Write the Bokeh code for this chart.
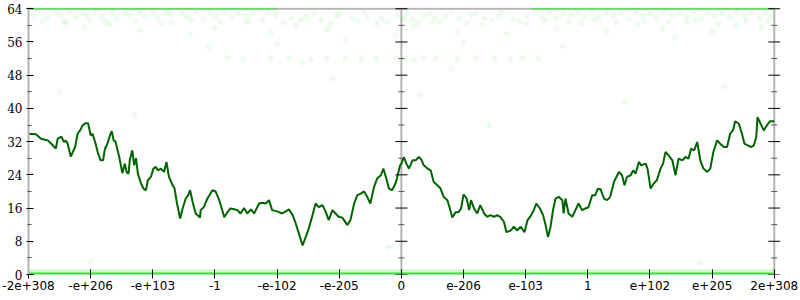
from bokeh.plotting import figure
from bokeh.models import Range1d, LinearAxis, FixedTicker, Span
from bokeh.embed import file_html
from bokeh.resources import INLINE

# ---------------- data ----------------
tick_labels = ["-2e+308", "-e+206", "-e+103", "-1", "-e-102", "-e-205", "0",
               "e-206", "e-103", "1", "e+102", "e+205", "2e+308"]
y_major = [0, 8, 16, 24, 32, 40, 48, 56, 64]
y_minor = [4, 12, 20, 28, 36, 44, 52, 60]

line_x = [0.0, 0.12, 0.2, 0.31, 0.36, 0.44, 0.47, 0.53, 0.57, 0.6, 0.63, 0.68, 0.75, 0.79, 0.83, 0.87,
          0.91, 0.96, 1.0, 1.03, 1.08, 1.12, 1.16, 1.2, 1.23, 1.27, 1.31, 1.34, 1.37, 1.4, 1.46, 1.51,
          1.55, 1.58, 1.61, 1.63, 1.67, 1.7, 1.73, 1.76, 1.81, 1.85, 1.89, 1.92, 1.97, 2.01, 2.05, 2.08,
          2.13, 2.18, 2.22, 2.26, 2.32, 2.35, 2.39, 2.44, 2.48, 2.53, 2.57, 2.6, 2.64, 2.69, 2.76, 2.77,
          2.82, 2.88, 2.96, 3.01, 3.07, 3.15, 3.2, 3.25, 3.31, 3.36, 3.41, 3.47, 3.52, 3.58, 3.63, 3.71,
          3.76, 3.82, 3.87, 3.92, 4.0, 4.08, 4.14, 4.19, 4.25, 4.3, 4.35, 4.41, 4.46, 4.51, 4.57, 4.62,
          4.67, 4.73, 4.78, 4.83, 4.89, 4.94, 4.99, 5.05, 5.13, 5.18, 5.24, 5.29, 5.34, 5.4, 5.45, 5.5,
          5.56, 5.61, 5.67, 5.71, 5.75, 5.8, 5.85, 5.91, 5.98, 6.0, 6.04, 6.08, 6.12, 6.18, 6.23, 6.28,
          6.32, 6.36, 6.42, 6.47, 6.52, 6.58, 6.63, 6.68, 6.74, 6.78, 6.82, 6.87, 6.92, 6.96, 7.0, 7.05,
          7.09, 7.12, 7.17, 7.22, 7.27, 7.33, 7.38, 7.43, 7.49, 7.54, 7.59, 7.65, 7.69, 7.76, 7.81, 7.86,
          7.92, 7.98, 8.03, 8.09, 8.13, 8.17, 8.23, 8.28, 8.32, 8.36, 8.4, 8.44, 8.48, 8.53, 8.59, 8.61,
          8.64, 8.69, 8.75, 8.8, 8.85, 8.91, 8.96, 9.01, 9.07, 9.12, 9.16, 9.19, 9.2, 9.26, 9.31, 9.36,
          9.42, 9.5, 9.55, 9.59, 9.63, 9.69, 9.73, 9.77, 9.82, 9.86, 9.93, 9.96, 10.01, 10.06, 10.11, 10.17,
          10.21, 10.25, 10.3, 10.36, 10.41, 10.46, 10.52, 10.57, 10.62, 10.66, 10.71, 10.76, 10.81, 10.86, 10.92, 10.97,
          11.02, 11.08, 11.13, 11.19, 11.24, 11.29, 11.34, 11.37, 11.43, 11.48, 11.52, 11.57, 11.63, 11.67, 11.71, 11.73,
          11.78, 11.83, 11.88, 11.93, 12.0]
line_y = [33.9, 33.8, 32.7, 32.3, 31.6, 30.3, 32.7, 33.2, 31.9, 32.3, 31.5, 28.4, 30.7, 33.9, 34.7, 35.9,
          36.4, 36.4, 33.5, 33.9, 31.5, 29.1, 27.5, 27.5, 30.3, 31.5, 33.5, 34.5, 32.3, 32.0, 28.3, 24.4,
          26.7, 24.6, 24.3, 27.6, 29.9, 26.3, 28.0, 24.3, 21.9, 20.7, 20.3, 22.7, 23.5, 25.5, 25.9, 25.1,
          25.5, 24.7, 27.1, 23.5, 21.5, 20.7, 17.1, 13.5, 15.9, 18.3, 19.1, 20.3, 17.5, 14.7, 13.7, 15.5,
          16.2, 18.3, 20.3, 20.0, 17.9, 13.8, 15.0, 15.9, 15.7, 15.5, 14.7, 16.0, 14.7, 15.7, 14.7, 17.1,
          17.3, 17.1, 17.9, 15.5, 15.2, 14.7, 15.2, 15.7, 14.3, 12.3, 9.9, 7.0, 9.0, 11.1, 14.3, 17.1,
          16.2, 16.7, 15.2, 13.1, 15.5, 14.7, 13.9, 13.7, 11.9, 13.1, 17.1, 19.1, 19.4, 20.0, 18.7, 17.1,
          21.1, 23.1, 23.9, 25.5, 23.5, 20.7, 20.3, 22.1, 26.3, 26.7, 28.3, 26.7, 25.5, 27.5, 27.5, 28.3,
          27.7, 26.3, 25.5, 25.1, 22.3, 21.5, 20.7, 18.7, 17.9, 15.9, 13.7, 15.0, 15.0, 15.9, 19.3, 18.3,
          15.5, 17.9, 15.9, 14.7, 16.7, 14.7, 13.9, 14.3, 13.9, 14.3, 13.9, 12.7, 10.2, 10.6, 11.5, 10.6,
          11.5, 10.2, 13.1, 14.3, 15.5, 17.1, 15.9, 14.3, 11.9, 9.0, 11.5, 15.5, 18.3, 18.7, 17.9, 14.7,
          18.3, 14.7, 13.9, 15.5, 17.1, 15.5, 15.9, 16.2, 19.1, 19.1, 20.7, 20.5, 20.7, 18.3, 17.9, 18.7,
          22.3, 24.7, 23.9, 21.5, 23.5, 23.9, 25.1, 24.3, 27.1, 26.3, 26.7, 25.5, 20.7, 21.9, 22.7, 25.5,
          26.7, 29.5, 28.7, 27.5, 23.9, 27.9, 27.5, 28.3, 27.9, 30.3, 29.9, 31.9, 27.5, 25.5, 24.7, 25.5,
          29.5, 32.3, 31.5, 30.7, 30.7, 33.9, 34.9, 36.9, 36.3, 33.9, 31.5, 31.1, 30.7, 31.1, 33.1, 37.9,
          36.3, 34.7, 35.9, 36.9, 36.9]

# faint scatter cloud
cloud_x = [0.08, 0.31, 0.52, 0.77, 0.95, 1.18, 1.42, 1.63, 1.88, 2.07, 2.29, 2.55, 2.81, 3.02, 3.27, 3.49,
           3.76, 3.98, 4.23, 4.47, 4.71, 4.96, 5.22, 5.45, 5.68, 5.93, 6.05, 6.18, 6.36, 6.54, 6.71, 6.93,
           7.12, 7.34, 7.55, 7.79, 8.02, 8.26, 8.49, 8.73, 8.95, 9.17, 9.41, 9.66, 9.88, 10.11, 10.35, 10.58,
           10.83, 11.04, 11.29, 11.52, 11.77, 11.94,
           0.15, 0.44, 0.66, 0.88, 1.07, 1.35, 1.56, 1.79, 2.01, 2.22, 2.47, 2.69, 2.93, 3.15, 3.38, 3.61,
           3.85, 8.15, 8.38, 8.61, 8.84, 9.06, 9.29, 9.53, 9.77, 10.0, 10.23, 10.47, 10.7, 10.93, 11.16, 11.4,
           11.63, 11.86, 6.1, 6.45, 6.8, 7.2, 7.6, 4.6, 5.0, 5.4,
           0.22, 0.58, 0.99, 1.24, 1.71, 2.14, 2.62, 3.08, 3.55, 4.1, 4.38, 4.85, 5.3, 5.77, 6.02, 6.27,
           6.62, 7.05, 7.45, 7.9, 8.3, 8.7, 9.1, 9.45, 9.9, 10.3, 10.75, 11.1, 11.55, 11.9,
           0.9, 1.3, 1.8, 2.3, 2.6, 3.0, 3.5, 3.9, 4.3, 4.8, 5.1, 5.6, 5.9, 6.2, 6.5, 6.9,
           7.3, 7.7, 8.0, 8.5, 8.9, 9.3, 9.8, 10.2, 10.6, 11.0, 11.4, 11.8, 4.0, 7.0, 8.6, 2.9,
           4.4, 6.8, 0.6, 10.4,
           3.2, 3.45, 3.9, 4.2, 4.55, 4.8, 5.1, 5.35, 5.6, 5.9, 6.05, 6.2, 6.35, 6.55, 6.9, 7.2,
           7.5, 7.75, 7.95, 8.2,
           0.5, 1.7, 4.9, 6.3, 7.4, 9.6, 11.2, 5.8, 1.0, 10.8]
cloud_y = [62.2, 61.8, 62.5, 61.9, 62.3, 62.0, 61.6, 62.4, 62.1, 61.8, 62.6, 62.0, 61.5, 62.3, 61.9, 62.2,
           61.4, 62.5, 61.7, 62.0, 61.3, 62.4, 61.8, 62.1, 61.6, 62.3, 62.0, 61.5, 62.4, 61.9, 62.2, 61.6,
           62.5, 61.8, 62.1, 61.4, 62.3, 62.0, 61.7, 62.4, 62.1, 61.9, 62.5, 61.6, 62.2, 61.8, 62.4, 62.0,
           61.7, 62.3, 61.9, 62.2, 61.6, 62.1,
           63.3, 63.0, 63.4, 63.1, 63.5, 63.2, 62.9, 63.4, 63.1, 63.3, 63.0, 63.5, 63.2, 63.4, 62.9, 63.3,
           63.1, 63.2, 63.4, 63.0, 63.3, 63.5, 63.1, 63.2, 63.4, 62.9, 63.3, 63.1, 63.5, 63.2, 63.0, 63.4,
           63.1, 63.3, 63.0, 62.8, 63.2, 62.9, 63.1, 63.0, 62.8, 63.2,
           61.0, 60.6, 61.2, 60.8, 61.1, 60.5, 61.3, 60.9, 61.0, 60.7, 61.2, 60.4, 61.1, 60.8, 61.3, 60.6,
           61.0, 60.5, 61.2, 60.9, 61.1, 60.7, 61.3, 60.6, 61.0, 60.8, 61.2, 60.5, 61.1, 60.9,
           59.5, 60.2, 58.9, 60.6, 57.8, 59.4, 60.8, 58.2, 60.1, 59.0, 56.5, 60.4, 57.6, 59.8, 60.7, 58.4,
           60.2, 57.9, 60.5, 59.1, 60.6, 58.7, 60.3, 59.2, 60.8, 58.5, 60.1, 59.6, 55.5, 55.8, 55.0, 54.8,
           51.0, 49.5, 60.9, 57.2,
           52.1, 51.9, 52.0, 52.2, 51.8, 52.0, 52.1, 51.9, 52.0, 52.2, 52.0, 51.8, 52.1, 52.0, 51.9, 52.1,
           52.0, 51.9, 52.2, 52.0,
           44.0, 38.5, 47.2, 43.1, 36.0, 41.5, 45.3, 6.5, 3.2, 2.8]

frame_x = [0, 12]
floor_y = [0, 0]
low_band_y = [0.8, 0.8]
ceiling_y = [64, 64]
ceiling_left_x = [0, 4.0]
ceiling_right_x = [8.1, 12]

# ---------------- figure ----------------
GRAY = "#b4b4b4"
p = figure(width=800, height=300, output_backend="svg", toolbar_location=None,
           x_range=Range1d(0, 12.1), y_range=Range1d(0, 64.3),
           min_border_left=28, min_border_right=20, min_border_top=7, min_border_bottom=26,
           x_axis_type=None, y_axis_type=None)
p.outline_line_color = None
p.xgrid.visible = False
p.ygrid.visible = False
p.background_fill_color = "white"
p.border_fill_color = "white"

# frame lines (top border, centre and right axes)
p.line(frame_x, ceiling_y, line_color=GRAY, line_width=2)
p.add_layout(Span(location=6, dimension="height", line_color=GRAY, line_width=2, level="underlay"))
p.line([12, 12], [0, 64], line_color=GRAY, line_width=2)

p.scatter(cloud_x, cloud_y, size=6, marker="circle", fill_color="#22dd22", fill_alpha=0.08,
          line_color=None)
p.line(frame_x, low_band_y, line_color="#7fe87f", line_alpha=0.35, line_width=4)
p.line(frame_x, floor_y, line_color="#3ddc3d", line_width=4)
p.line(ceiling_left_x, ceiling_y, line_color="#5ede5e", line_alpha=0.8, line_width=2)
p.line(ceiling_right_x, ceiling_y, line_color="#5ede5e", line_alpha=0.8, line_width=2)

p.line(line_x, line_y, line_color="#006400", line_width=2)

# centre and right axis ticks
for xpos in (6, 12):
    p.scatter([xpos] * len(y_major), y_major, marker="dash", size=12, line_color="black", line_width=1)
    p.scatter([xpos] * len(y_minor), y_minor, marker="dash", size=6, line_color="#555555", line_width=1)

yt = FixedTicker(ticks=y_major, minor_ticks=y_minor)
left = LinearAxis(ticker=yt)
left.axis_line_color = GRAY
left.axis_line_width = 2
left.major_tick_line_color = "black"
left.major_tick_in = 5
left.major_tick_out = 2
left.minor_tick_line_color = "#555555"
left.minor_tick_in = 3
left.minor_tick_out = 1
left.major_label_standoff = 4
left.major_label_text_font = "DejaVu Serif"
left.major_label_text_font_size = "12px"
left.major_label_text_color = "black"
p.add_layout(left, "left")

bottom = LinearAxis(ticker=FixedTicker(ticks=list(range(len(tick_labels))), minor_ticks=[]))
bottom.major_label_overrides = {i: s for i, s in enumerate(tick_labels)}
bottom.axis_line_color = None
bottom.major_tick_line_color = "black"
bottom.major_tick_in = 5
bottom.major_tick_out = 4
bottom.minor_tick_line_color = None
bottom.major_label_standoff = 2
bottom.major_label_text_font = "DejaVu Sans"
bottom.major_label_text_font_size = "12px"
bottom.major_label_text_color = "black"
p.add_layout(bottom, "below")

open("out.html", "w").write(file_html(p, INLINE))
